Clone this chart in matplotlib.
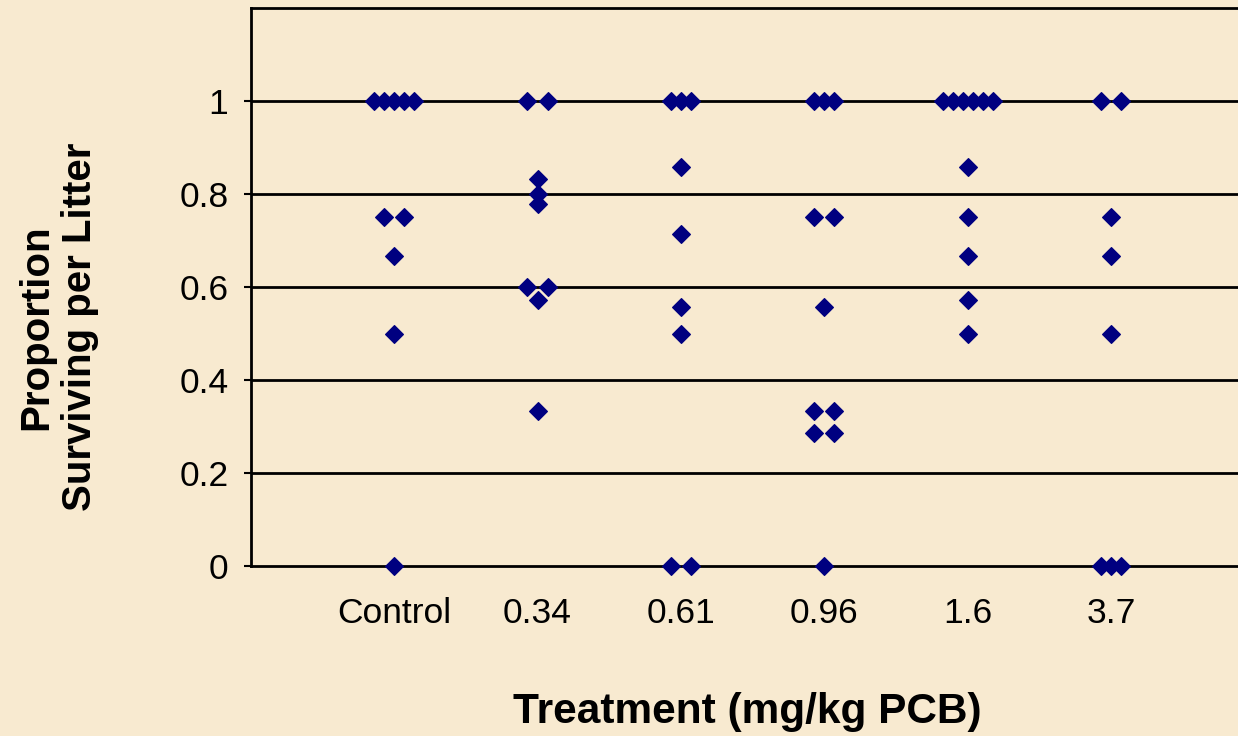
import numpy as np
import matplotlib
matplotlib.use("Agg")
import matplotlib.pyplot as plt

# proportion surviving per litter, one list per treatment group
categories = ["Control", "0.34", "0.61", "0.96", "1.6", "3.7"]
control = [1, 1, 1, 1, 1, 0.75, 0.75, 0.667, 0.5, 0]
pcb_034 = [1, 1, 0.833, 0.8, 0.778, 0.6, 0.6, 0.571, 0.333]
pcb_061 = [1, 1, 1, 0.857, 0.714, 0.556, 0.5, 0, 0]
pcb_096 = [1, 1, 1, 0.75, 0.75, 0.556, 0.333, 0.333, 0.286, 0.286, 0]
pcb_16 = [1, 1, 1, 1, 1, 1, 0.857, 0.75, 0.667, 0.571, 0.5]
pcb_37 = [1, 1, 0.75, 0.667, 0.5, 0, 0, 0]
groups = [control, pcb_034, pcb_061, pcb_096, pcb_16, pcb_37]
yticks = [0, 0.2, 0.4, 0.6, 0.8, 1]

plt.rcParams["font.family"] = ["Liberation Sans", "DejaVu Sans"]

W, H = 1238, 736
bg = "#F8EAD0"
fig = plt.figure(figsize=(W / 100, H / 100), dpi=100, facecolor=bg)
# axes right edge runs past the figure, like the cropped original
left, right, bottom, top = 250.7, 1254.5, 566, 8
ax = fig.add_axes([left / W, 1 - bottom / H, (right - left) / W, (bottom - top) / H])
ax.set_facecolor(bg)

step = 0.07  # horizontal spread for tied values
for i, vals in enumerate(groups, start=1):
    vals = np.array(vals)
    for v in np.unique(vals):
        n = int(np.sum(vals == v))
        sp = 2 * step if n == 2 else step
        offs = (np.arange(n) - (n - 1) / 2) * sp
        ax.plot(i + offs, [v] * n, "D", ms=9.3, color="#000080",
                mec="#000080", mew=0.8, zorder=3, clip_on=False)

ax.set_xlim(0, 7)
ax.set_ylim(0, 1.2)
ax.set_yticks(yticks)
ax.set_yticklabels([f"{t:g}" for t in yticks])
ax.set_xticks(range(1, 7))
ax.set_xticklabels(categories)
for y in yticks[1:]:
    ax.axhline(y, color="black", lw=2.0, zorder=1)

for s in ["left", "top", "bottom"]:
    ax.spines[s].set_linewidth(2.0)
    ax.spines[s].set_color("black")
ax.spines["right"].set_visible(False)

ax.tick_params(axis="y", length=5, width=1.5, pad=11, labelsize=25.5)
ax.tick_params(axis="x", length=0, pad=22, labelsize=25.5)

fig.text(747 / W, 1 - 712 / H, "Treatment (mg/kg PCB)", ha="center",
         va="center", fontsize=30.5, fontweight="bold")
fig.text(58 / W, 1 - 327 / H, "Proportion\nSurviving per Litter",
         ha="center", va="center", rotation=90, fontsize=29,
         fontweight="bold", linespacing=1.2, multialignment="center")

fig.savefig("out.png", dpi=100, facecolor=bg)
